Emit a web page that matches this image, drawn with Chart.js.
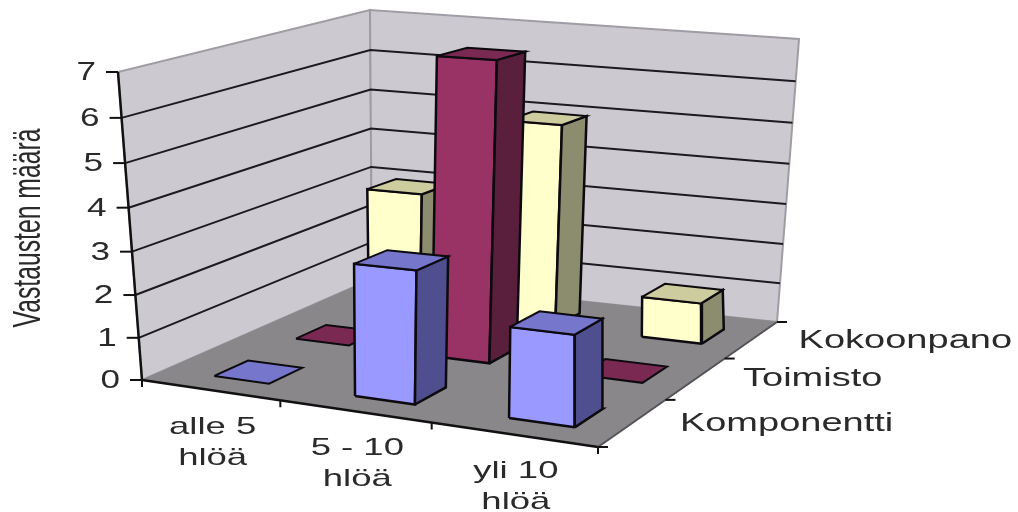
<!DOCTYPE html>
<html>
<head>
<meta charset="utf-8">
<style>
  html, body { margin: 0; background: #fff; }
  canvas { display: block; }
</style>
<script src="https://cdn.jsdelivr.net/npm/chart.js@4"></script>
</head>
<body>
<canvas id="chart" width="1018" height="512"></canvas>
<script>
const categories = [["alle 5", "hlöä"], ["5 - 10", "hlöä"], ["yli 10", "hlöä"]];
const seriesNames = ["Komponentti", "Toimisto", "Kokoonpano"];
const komponentti = [0, 3, 2];
const toimisto = [0, 7, 0];
const kokoonpano = [3, 5, 1];
const valueTicks = [0, 1, 2, 3, 4, 5, 6, 7];
const axisTitle = "Vastausten määrä";

const seriesValues = [komponentti, toimisto, kokoonpano];
const seriesColors = [
  { front: "#9999ff", top: "#7676cc", side: "#4f4f8f" },
  { front: "#993366", top: "#7a2952", side: "#5a1f3d" },
  { front: "#ffffcc", top: "#cccc9f", side: "#8c8c6e" }
];

// box corners on screen: front-left, front-right, back-right, back-left
const floorQuad = [[142, 380], [598, 447], [777, 322], [372, 279]];
const topQuad = [[118, 72], [612, 100], [799, 39], [370, 10]];
// the bars stand a little straighter than the walls
const barFloorQuad = [[152, 380], [608, 447], [787, 322], [382, 279]];
const barTopQuad = [[93, 72], [602, 100], [769, 39], [380, 10]];
const maxValue = 7;
const barWidth = 0.4;
const barDepth = 0.4;
const barInset = 0.25;
const heightBend = 0.05;

function quadMap(q) {
  const [[x0, y0], [x1, y1], [x2, y2], [x3, y3]] = q;
  const dx1 = x1 - x2, dx2 = x3 - x2, sx = x0 - x1 + x2 - x3;
  const dy1 = y1 - y2, dy2 = y3 - y2, sy = y0 - y1 + y2 - y3;
  const den = dx1 * dy2 - dx2 * dy1;
  const g = (sx * dy2 - dx2 * sy) / den;
  const h = (dx1 * sy - sx * dy1) / den;
  const a = x1 - x0 + g * x1, b = x3 - x0 + h * x3;
  const d = y1 - y0 + g * y1, e = y3 - y0 + h * y3;
  return (s, t) => {
    const w = g * s + h * t + 1;
    return [(a * s + b * t + x0) / w, (d * s + e * t + y0) / w];
  };
}

const wallMaps = [quadMap(floorQuad), quadMap(topQuad)];
const barMaps = [quadMap(barFloorQuad), quadMap(barTopQuad)];

// category position, series position, value -> canvas point
function projectWith(maps, cat, ser, value) {
  const s = cat / categories.length, t = ser / seriesNames.length;
  const lo = maps[0](s, t), hi = maps[1](s, t);
  const r = value / maxValue;
  const k = r / (1 + heightBend * (1 - r));
  return { x: lo[0] + (hi[0] - lo[0]) * k, y: lo[1] + (hi[1] - lo[1]) * k };
}
const project = (c, s, v) => projectWith(wallMaps, c, s, v);
const projectBar = (c, s, v) => projectWith(barMaps, c, s, v);

const datasets = [];

function addShape(points, fill, stroke, width) {
  datasets.push({
    data: points.concat([points[0]]),
    showLine: true,
    fill: "shape",
    backgroundColor: fill,
    borderColor: stroke,
    borderWidth: width,
    pointRadius: 0,
    tension: 0,
    order: -datasets.length
  });
}

function addLine(points, color, width) {
  datasets.push({
    data: points,
    showLine: true,
    fill: false,
    borderColor: color,
    borderWidth: width,
    pointRadius: 0,
    tension: 0,
    order: -datasets.length
  });
}

const nCat = categories.length, nSer = seriesNames.length;

// walls and floor
addShape([project(0, 0, 0), project(0, nSer, 0), project(0, nSer, maxValue), project(0, 0, maxValue)], "#cdc9d1", "#a09ca4", 2);
addShape([project(0, nSer, 0), project(nCat, nSer, 0), project(nCat, nSer, maxValue), project(0, nSer, maxValue)], "#cdc9d1", "#a09ca4", 2);
addShape([project(0, 0, 0), project(nCat, 0, 0), project(nCat, nSer, 0), project(0, nSer, 0)], "#8a878b", "#8a878b", 1);

// gridlines run along both walls
valueTicks.filter(v => v > 0 && v < maxValue).forEach(v => {
  addLine([project(0, 0, v), project(0, nSer, v), project(nCat, nSer, v)], "#1c1a1e", 2);
});

// value axis with ticks
addLine([project(0, 0, 0), project(0, 0, maxValue)], "#111", 2.5);
valueTicks.forEach(v => {
  const p = project(0, 0, v);
  addLine([p, { x: p.x - 12, y: p.y }], "#111", 2);
});

// front and right floor edges with ticks
addLine([project(0, 0, 0), project(nCat, 0, 0)], "#111", 2.5);
addLine([project(nCat, 0, 0), project(nCat, nSer, 0)], "#55535a", 2);
for (let c = 0; c <= nCat; c++) {
  const p = project(c, 0, 0);
  addLine([p, { x: p.x, y: p.y + 7 }], "#111", 2);
}
for (let s = 0; s <= nSer; s++) {
  const p = project(nCat, s, 0);
  addLine([p, { x: p.x + 10, y: p.y }], "#111", 2);
}

// bars, back row first so nearer ones cover them
for (let s = nSer - 1; s >= 0; s--) {
  for (let c = 0; c < nCat; c++) {
    const value = seriesValues[s][c];
    const colors = seriesColors[s];
    const u0 = c + 0.5 - barWidth / 2, u1 = c + 0.5 + barWidth / 2;
    const v0 = s + barInset, v1 = v0 + barDepth;
    if (value > 0) {
      addShape([projectBar(u0, v0, 0), projectBar(u1, v0, 0), projectBar(u1, v0, value), projectBar(u0, v0, value)], colors.front, "#0c0a0e", 2.5);
      addShape([projectBar(u1, v0, 0), projectBar(u1, v1, 0), projectBar(u1, v1, value), projectBar(u1, v0, value)], colors.side, "#0c0a0e", 2.5);
    }
    addShape([projectBar(u0, v0, value), projectBar(u1, v0, value), projectBar(u1, v1, value), projectBar(u0, v1, value)], colors.top, "#0c0a0e", 2);
  }
}

function stretchedText(ctx, text, x, y, align, sx, size) {
  ctx.save();
  ctx.translate(x, y);
  ctx.scale(sx, 1);
  ctx.font = size + "px 'Liberation Sans', Arial, sans-serif";
  ctx.textAlign = align;
  ctx.textBaseline = "middle";
  ctx.fillText(text, 0, 0);
  ctx.restore();
}

const axisLabels = {
  id: "axisLabels",
  afterDraw(chart) {
    const ctx = chart.ctx;
    const xs = chart.scales.x, ys = chart.scales.y;
    ctx.fillStyle = "#2a2a2a";
    valueTicks.forEach(v => {
      const p = project(0, 0, v);
      stretchedText(ctx, String(v), xs.getPixelForValue(p.x - 22), ys.getPixelForValue(p.y + 1), "right", 1.35, 26);
    });
    categories.forEach((lines, c) => {
      const p = project(c + 0.5, 0, 0);
      lines.forEach((line, i) => {
        stretchedText(ctx, line, xs.getPixelForValue(p.x + 3), ys.getPixelForValue(p.y + 37 + i * 31), "center", 1.52, 24);
      });
    });
    seriesNames.forEach((name, s) => {
      const p = project(nCat, s + 0.5, 0);
      stretchedText(ctx, name, xs.getPixelForValue(p.x + 47), ys.getPixelForValue(p.y + 1), "left", 1.52, 25);
    });
    ctx.save();
    ctx.translate(xs.getPixelForValue(29), ys.getPixelForValue(228));
    ctx.rotate(-Math.PI / 2);
    ctx.scale(1.03, 1.6);
    ctx.font = "24px 'Liberation Sans', Arial, sans-serif";
    ctx.textAlign = "center";
    ctx.textBaseline = "middle";
    ctx.fillText(axisTitle, 0, 0);
    ctx.restore();
  }
};

new Chart(document.getElementById("chart"), {
  type: "scatter",
  data: { datasets },
  plugins: [axisLabels],
  options: {
    responsive: false,
    animation: false,
    clip: false,
    layout: { padding: 0 },
    scales: {
      x: { type: "linear", min: 0, max: 1018, display: false },
      y: { type: "linear", min: 0, max: 512, reverse: true, display: false }
    },
    plugins: { legend: { display: false }, tooltip: { enabled: false } }
  }
});
</script>
</body>
</html>
